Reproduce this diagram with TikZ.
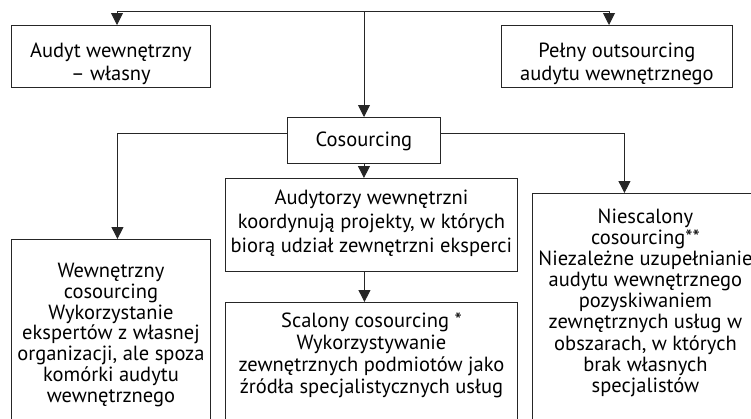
\documentclass[tikz,border=0pt]{standalone}
\usepackage{fontspec}
\setmainfont{PT Sans}
\usetikzlibrary{arrows.meta}
\newcommand{\bxt}[5]{\parbox[c][#2pt][t]{#1pt}{\centering\baselineskip=#3pt\relax\vspace*{#4pt}\rule{0pt}{17pt}#5\par}}
\tikzset{
  boxnode/.style={draw=black!85, line width=0.9pt, inner sep=0pt, anchor=north west, font=\fontsize{20.5}{21.5}\selectfont},
  conn/.style={draw=black!85, line width=0.9pt},
  arr/.style={conn, -{Triangle[width=12pt,length=12pt]}}
}
\begin{document}
\begin{tikzpicture}[x=1pt,y=-1pt]
\clip (0,0) rectangle (751,418);
\node[boxnode] (A) at (11,25) {\bxt{199}{62}{22.7}{15}{Audyt wewnętrzny\\– własny}};
\node[boxnode] (B) at (501,25) {\bxt{231}{62}{22.7}{15}{Pełny outsourcing\\audytu wewnętrznego}};
\node[boxnode] (C) at (287,117) {\bxt{153}{46}{22}{12}{Cosourcing}};
\node[boxnode] (D) at (225,178) {\bxt{292}{93}{24}{9}{Audytorzy wewnętrzni\\koordynują projekty, w których\\biorą udział zewnętrzni eksperci}};
\node[boxnode] (E) at (225,302) {\bxt{292}{130}{22}{8}{Scalony cosourcing *\\Wykorzystywanie\\zewnętrznych podmiotów jako\\źródła specjalistycznych usług}};
\node[boxnode] (F) at (11,239) {\bxt{199}{195}{20.8}{21}{Wewnętrzny\\cosourcing\\Wykorzystanie\\ekspertów z własnej\\organizacji, ale spoza\\komórki audytu\\wewnętrznego}};
\node[boxnode] (G) at (532,193) {\bxt{226}{240}{21.1}{13}{Niescalony\\cosourcing**\\Niezależne uzupełnianie\\audytu wewnętrznego\\pozyskiwaniem\\zewnętrznych usług w\\obszarach, w których\\brak własnych\\specjalistów}};
\coordinate (tl) at (117,11);
\coordinate (tm) at (364,11);
\coordinate (tr) at (609,11);
\draw[conn] (tl) -- (tr);
\draw[arr] (tl) -- (tl |- A.north);
\draw[arr] (tr) -- (tr |- B.north);
\draw[arr] (tm) -- (tm |- C.north);
\draw[arr] ([yshift=7pt]C.west) -| ([xshift=6.5pt]F.north);
\draw[arr] ([yshift=7pt]C.east) -| ([xshift=-21pt]G.north);
\draw[arr] (C.south) -- (C.south |- D.north);
\draw[arr] ([xshift=-7pt]D.south) -- ([xshift=-7pt]E.north);
\end{tikzpicture}
\end{document}
